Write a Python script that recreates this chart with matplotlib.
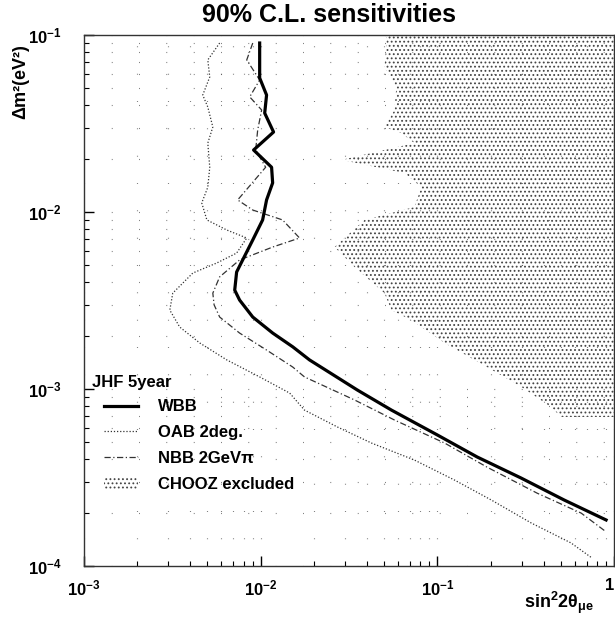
import matplotlib
matplotlib.use("Agg")
import matplotlib.pyplot as plt
from matplotlib.lines import Line2D
from matplotlib.patches import Patch

plt.rcParams['font.family'] = ['Liberation Sans', 'DejaVu Sans']
plt.rcParams['font.weight'] = 'bold'
plt.rcParams['mathtext.fontset'] = 'custom'
plt.rcParams['mathtext.rm'] = 'Liberation Sans:bold'
plt.rcParams['mathtext.bf'] = 'Liberation Sans:bold'
plt.rcParams['mathtext.it'] = 'Liberation Sans:bold:italic'
plt.rcParams['hatch.linewidth'] = 0.8

# WBB sensitivity (sin^2 2theta, dm^2)
wbb_s = [0.00987, 0.00987, 0.0108, 0.01054, 0.01183, 0.00912, 0.01153, 0.01169,
         0.0108, 0.01026, 0.00902, 0.00791, 0.00731, 0.00713, 0.0076, 0.00902,
         0.0117, 0.0152, 0.0189, 0.0353, 0.055, 0.1, 0.168, 0.298, 0.522, 0.902]
wbb_m = [0.0901, 0.0572, 0.0458, 0.0362, 0.0283, 0.0224, 0.0179, 0.0146,
         0.0117, 0.00902, 0.00695, 0.00536, 0.00458, 0.00362, 0.00318, 0.00255,
         0.00207, 0.00173, 0.00146, 0.000986, 0.00076, 0.00055, 0.000413,
         0.000314, 0.000236, 0.000182]

# OAB 2deg.
oab_s = [0.00586, 0.00502, 0.00515, 0.0047, 0.00502, 0.00536, 0.00502, 0.00515,
         0.00502, 0.00464, 0.00496, 0.00643, 0.00834, 0.00731, 0.00564, 0.00413,
         0.00318, 0.00306, 0.00348, 0.00452, 0.00643, 0.00987, 0.0146, 0.0177,
         0.0272, 0.0424, 0.0741, 0.125, 0.202, 0.34, 0.571, 0.741]
oab_m = [0.0901, 0.0723, 0.0579, 0.0458, 0.0392, 0.0302, 0.0245, 0.0179,
         0.0138, 0.01125, 0.00902, 0.00791, 0.00713, 0.00586, 0.00515, 0.00452,
         0.00348, 0.00279, 0.00224, 0.00182, 0.00146, 0.00117, 0.000948, 0.00076,
         0.00061, 0.000495, 0.000397, 0.000306, 0.000236, 0.000175, 0.000135,
         0.000112]

# NBB 2GeV pi
nbb_s = [0.00902, 0.00834, 0.00987, 0.00867, 0.01013, 0.00962, 0.00937, 0.01067,
         0.00741, 0.00902, 0.0133, 0.0166, 0.0117, 0.0076, 0.00586, 0.00536,
         0.00545, 0.00586, 0.0076, 0.0108, 0.0152, 0.0177, 0.034, 0.0572, 0.11,
         0.191, 0.367, 0.652, 0.902]
nbb_m = [0.0901, 0.0723, 0.0557, 0.0447, 0.0377, 0.0291, 0.0224, 0.0179,
         0.0117, 0.01026, 0.00902, 0.00713, 0.00634, 0.00536, 0.0043, 0.00348,
         0.00299, 0.00255, 0.00207, 0.00166, 0.00133, 0.00117, 0.000867,
         0.000668, 0.000495, 0.000362, 0.000258, 0.000199, 0.000156]

# CHOOZ excluded region boundary
chooz_s = [0.0515, 0.0515, 0.0502, 0.0586, 0.0572, 0.0502, 0.0627, 0.0741,
           0.0287, 0.0652, 0.0813, 0.0741, 0.0387, 0.0262, 0.034, 0.0502, 0.055,
           0.0713, 0.11, 0.191, 0.298, 0.441, 0.502, 1.0, 1.0]
chooz_m = [0.1, 0.0901, 0.0659, 0.0508, 0.0377, 0.0302, 0.0279, 0.0245,
           0.0197, 0.0166, 0.0138, 0.01067, 0.00902, 0.00634, 0.00489, 0.00348,
           0.00279, 0.00245, 0.00182, 0.00133, 0.00103, 0.00079, 0.000695,
           0.000695, 0.1]

xticks = [1e-3, 1e-2, 1e-1, 1]
xlabels = [r'$10^{-3}$', r'$10^{-2}$', r'$10^{-1}$', '1']
yticks = [1e-4, 1e-3, 1e-2, 1e-1]
ylabels = [r'$10^{-4}$', r'$10^{-3}$', r'$10^{-2}$', r'$10^{-1}$']

fig = plt.figure(figsize=(6.15, 6.18), dpi=100)
ax = fig.add_axes([84 / 615, 52 / 618, 530 / 615, 531 / 618])
ax.set_xscale('log')
ax.set_yscale('log')
ax.set_xlim(1e-3, 1)
ax.set_ylim(1e-4, 1e-1)

ax.fill(chooz_s, chooz_m, facecolor='white', edgecolor='#444444', hatch='....',
        linewidth=0, zorder=1)
ax.plot(oab_s, oab_m, color='#333333', lw=0.9, ls=(0, (1, 1.5)), zorder=3)
ax.plot(nbb_s, nbb_m, color='#333333', lw=0.9, ls=(0, (5, 2, 1, 2)), zorder=3)
ax.plot(wbb_s, wbb_m, color='black', lw=2.3, zorder=4)

ax.grid(True, which='both', color='#444444', lw=0.8, ls=(0, (0.6, 24)))
ax.set_xticks(xticks)
ax.set_xticklabels(xlabels)
ax.set_yticks(yticks)
ax.set_yticklabels(ylabels)
ax.get_xticklabels()[-1].set_horizontalalignment('right')
ax.tick_params(which='major', direction='in', length=7, width=1, labelsize=12)
ax.tick_params(axis='x', which='major', pad=9)
ax.tick_params(axis='y', which='major', pad=16)
ax.tick_params(which='minor', direction='in', length=3.5, width=0.8)
for sp in ax.spines.values():
    sp.set_linewidth(1.0)
    sp.set_color('#333333')

handles = [Line2D([], [], color='black', lw=2.3),
           Line2D([], [], color='#333333', lw=0.9, ls=(0, (1, 1.5))),
           Line2D([], [], color='#333333', lw=0.9, ls=(0, (5, 2, 1, 2))),
           Patch(facecolor='white', edgecolor='#444444', hatch='....', lw=0)]
labels = ['WBB', 'OAB 2deg.', 'NBB 2GeV\u03c0', 'CHOOZ excluded']
leg = ax.legend(handles, labels, frameon=False,
                loc='upper left', bbox_to_anchor=(101 / 615, 1 - 396 / 618),
                bbox_transform=fig.transFigure, fontsize=12,
                handlelength=2.0, handletextpad=1.2,
                labelspacing=0.65, borderpad=0.2, borderaxespad=0)
fig.text(92 / 615, 1 - 382 / 618, 'JHF 5year', ha='left', va='center',
         fontsize=12, fontweight='bold')

fig.text(329 / 615, 1 - 15 / 618, '90% C.L. sensitivities', ha='center',
         va='center', fontsize=18, fontweight='bold')
fig.text(21 / 615, 1 - 82 / 618, '\u0394m\u00b2(eV\u00b2)', rotation=90,
         ha='center', va='center', fontsize=13, fontweight='bold')
fig.text(559 / 615, 1 - 603 / 618, r'$\mathrm{sin^22\theta_{\mu e}}$',
         ha='center', va='center', fontsize=13)

fig.savefig('out.png', dpi=100)
